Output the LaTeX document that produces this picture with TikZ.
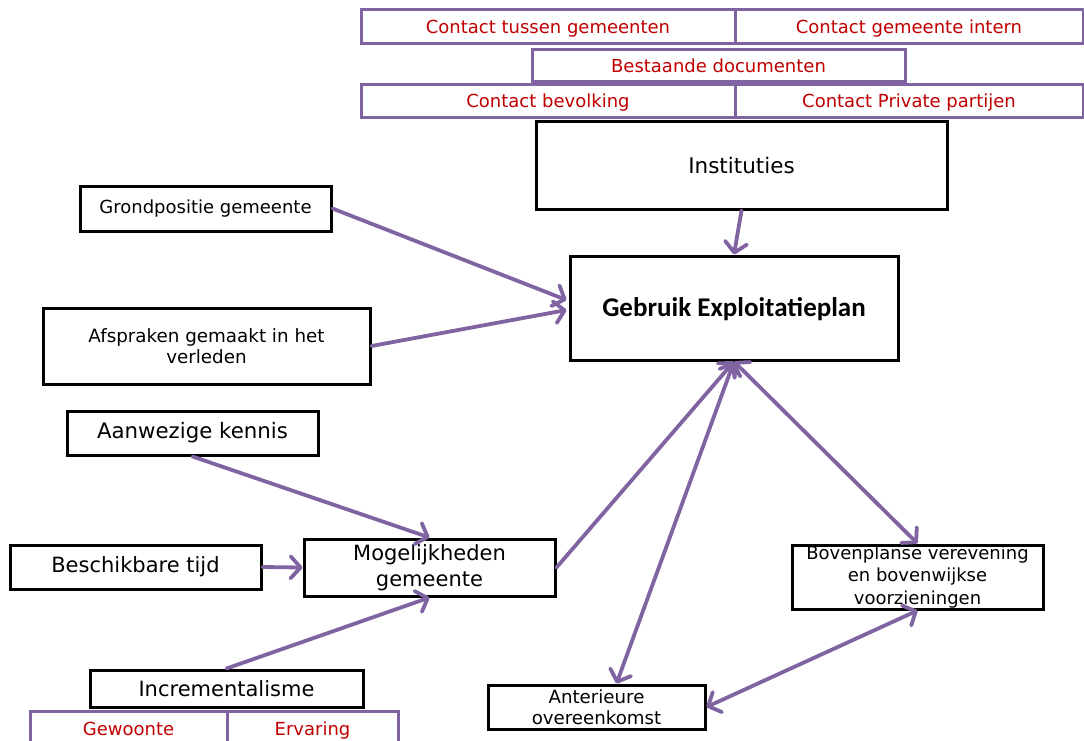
\documentclass[tikz,border=0pt]{standalone}
\usepackage{fontspec}
\setmainfont{DejaVu Sans}
\newfontfamily\calibfont{Carlito}
\usetikzlibrary{arrows.meta,calc}
\definecolor{vpurple}{HTML}{8064A2}
\definecolor{vred}{HTML}{C00000}
\newcommand{\fs}[2]{\fontsize{#1}{#2}\selectfont}
\begin{document}
\begin{tikzpicture}[x=1pt,y=-1pt,
  bbox/.style={draw=black,line width=3pt,inner sep=0pt,align=center,text=black},
  pbox/.style={draw=vpurple,line width=3pt,inner sep=0pt,align=center,text=vred,font=\fs{18}{21},text height=16pt,text depth=2pt},
  tip/.tip={Straight Barb[length=10pt,width=22pt,line width=3.8pt,round]},
  conn/.style={draw=vpurple,line width=3.8pt,line cap=round,-tip},
  dconn/.style={draw=vpurple,line width=3.8pt,line cap=round,tip-tip}]
\useasboundingbox (0,0) rectangle (1084,740);

% top purple boxes
\node[pbox,minimum width=374,minimum height=34] (ctg) at (548,26) {Contact tussen gemeenten};
\node[pbox,minimum width=348,minimum height=34] (cgi) at (909,26) {Contact gemeente intern};
\node[pbox,minimum width=373,minimum height=32] (bd) at (718.5,65) {Bestaande documenten};
\node[pbox,minimum width=374,minimum height=33] (cb) at (548,100.5) {Contact bevolking};
\node[pbox,minimum width=348,minimum height=33] (cpp) at (909,100.5) {Contact Private partijen};

% main boxes
\node[bbox,minimum width=411,minimum height=88,font=\fs{21.5}{25}] (inst) at (741.5,165) {Instituties};
\node[bbox,minimum width=328,minimum height=104,font=\calibfont\bfseries\fs{27}{31},text height=18pt,text depth=2pt] (geb) at (734,308) {Gebruik Exploitatieplan};
\node[bbox,minimum width=251,minimum height=45,font=\fs{18}{21}] (grond) at (205.5,208.5) {Grondpositie gemeente};
\node[bbox,minimum width=327,minimum height=76,font=\fs{18.3}{21.5}] (afs) at (206.5,346) {Afspraken gemaakt in het\\verleden};
\node[bbox,minimum width=251,minimum height=44,font=\fs{21.3}{25}] (aan) at (192.5,433) {Aanwezige kennis};
\node[bbox,minimum width=251,minimum height=44,font=\fs{21}{25}] (besch) at (135.5,567) {Beschikbare tijd};
\node[bbox,minimum width=251,minimum height=57,font=\fs{21}{26}] (mog) at (429.5,567.5) {Mogelijkheden\\gemeente};
\node[bbox,minimum width=273,minimum height=37,font=\fs{21}{25}] (incr) at (226.5,688.5) {Incrementalisme};
\node[bbox,minimum width=251,minimum height=64,font=\fs{18}{22.5}] (bov) at (917.5,577) {Bovenplanse verevening\\en bovenwijkse\\voorzieningen};
\node[bbox,minimum width=217,minimum height=44,font=\fs{18.2}{21.5}] (ant) at (596.5,707) {Anterieure\\overeenkomst};

% bottom purple boxes
\node[pbox,minimum width=197,minimum height=34] (gew) at (128.5,728) {Gewoonte};
\node[pbox,minimum width=171,minimum height=34] (erv) at (312.5,728) {Ervaring};

% connectors
\draw[conn] (inst.south) -- (geb.north);
\draw[conn] (grond.east) -- ($(geb.west)+(-2,-8)$);
\draw[conn] (afs.east) -- ($(geb.west)+(-2,2)$);
\draw[conn] (aan.south) -- (mog.north);
\draw[conn] (besch.east) -- (mog.west);
\draw[conn] (incr.north) -- (mog.south);
\draw[conn] (mog.east) -- (geb.south);
\draw[dconn] (geb.south) -- ($(ant.north)+(20,0)$);
\draw[dconn] (geb.south) -- (bov.north);
\draw[dconn] (bov.south) -- (ant.east);
\end{tikzpicture}
\end{document}
